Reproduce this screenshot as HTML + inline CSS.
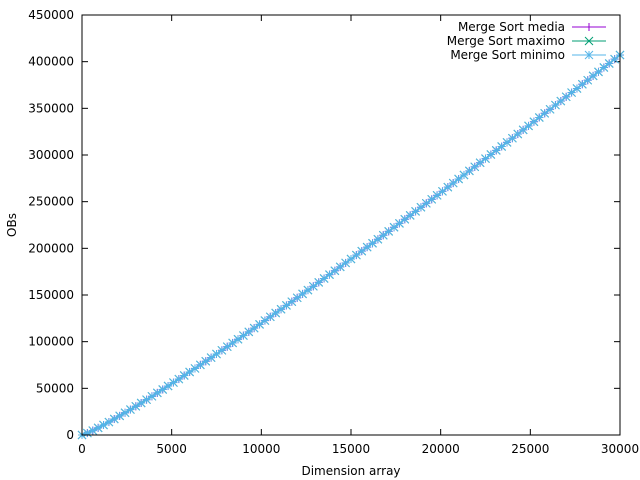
<!DOCTYPE html>
<html><head><meta charset="utf-8"><style>
body{margin:0;background:#fff}
svg{display:block;font-family:"DejaVu Sans","Liberation Sans",sans-serif;font-size:12px}
</style></head><body>
<svg id="c" width="640" height="480"></svg>
<script>
const sizes=[0,300,600,900,1200,1500,1800,2100,2400,2700,3000,3300,3600,3900,4200,4500,4800,5100,5400,5700,6000,6300,6600,6900,7200,7500,7800,8100,8400,8700,9000,9300,9600,9900,10200,10500,10800,11100,11400,11700,12000,12300,12600,12900,13200,13500,13800,14100,14400,14700,15000,15300,15600,15900,16200,16500,16800,17100,17400,17700,18000,18300,18600,18900,19200,19500,19800,20100,20400,20700,21000,21300,21600,21900,22200,22500,22800,23100,23400,23700,24000,24300,24600,24900,25200,25500,25800,26100,26400,26700,27000,27300,27600,27900,28200,28500,28800,29100,29400,29700,30000];
const mediaVals=[0,2079,4758,7659,10716,13875,17118,20454,23832,27270,30750,34287,37836,41457,45108,48780,52464,56202,59940,63726,67500,71316,75174,79005,82872,86775,90714,94608,98616,102573,106560,110484,114528,118503,122604,126630,130680,134754,138852,142857,147000,151167,155232,159315,163548,167670,171810,175968,180144,184338,188550,192780,197028,201294,205416,209715,214032,218196,222546,226737,231120,235338,239568,243999,248256,252525,256806,261099,265608,269928,274260,278604,282960,287328,291708,296100,300504,304920,309114,313551,318000,322461,326934,331170,335664,340170,344688,348957,353496,357780,362340,366912,371220,375813,380136,384750,389088,393723,398076,402732,407100];
const maximoVals=mediaVals.slice();
const minimoVals=mediaVals.slice();
const xTicks=[0,5000,10000,15000,20000,25000,30000];
const yTicks=[0,50000,100000,150000,200000,250000,300000,350000,400000,450000];
const L=82,R=620,T=15,B=435;
const xs=v=>L+v/30000*(R-L), ys=v=>B-v/450000*(B-T);
const svg=document.getElementById('c');const NS='http://www.w3.org/2000/svg';
function mk(t,a,p){const e=document.createElementNS(NS,t);for(const k in a)e.setAttribute(k,a[k]);(p||svg).appendChild(e);return e;}
const grid=mk('g',{});


xTicks.forEach(v=>{const x=xs(v);
 mk('line',{x1:x,x2:x,y1:B,y2:B-6,stroke:'#000'},grid);mk('line',{x1:x,x2:x,y1:T,y2:T+6,stroke:'#000'},grid);
 const t=mk('text',{x:x,y:B+18,'text-anchor':'middle'},grid);t.textContent=v;
 
 });
yTicks.forEach(v=>{const y=ys(v);
 mk('line',{x1:L,x2:L+6,y1:y,y2:y,stroke:'#000'},grid);mk('line',{x1:R,x2:R-6,y1:y,y2:y,stroke:'#000'},grid);
 const t=mk('text',{x:L-8,y:y+4,'text-anchor':'end'},grid);t.textContent=v;
 
 });
const xt=mk('text',{x:351,y:475,'text-anchor':'middle'});xt.textContent='Dimension array';


const yt=mk('text',{x:16,y:225,'text-anchor':'middle',transform:'rotate(-90 16 225)'});yt.textContent='OBs';


function marker(g,x,y,type,c){
 const s=4;
 if(type!=='x'){mk('line',{x1:x-s,x2:x+s,y1:y,y2:y,stroke:c},g);mk('line',{x1:x,x2:x,y1:y-s,y2:y+s,stroke:c},g);}
 if(type!=='+'){mk('line',{x1:x-s,x2:x+s,y1:y-s,y2:y+s,stroke:c},g);mk('line',{x1:x-s,x2:x+s,y1:y+s,y2:y-s,stroke:c},g);}
}
const series=[['Merge Sort media',mediaVals,'#9400d3','+'],['Merge Sort maximo',maximoVals,'#009e73','x'],['Merge Sort minimo',minimoVals,'#56b4e9','*']];
series.forEach((s,i)=>{
 const g=mk('g',{});
 
 
 mk('polyline',{points:sizes.map((n,j)=>xs(n)+','+ys(s[1][j])).join(' '),fill:'none',stroke:s[2],'stroke-width':1},g);
 sizes.forEach((n,j)=>marker(g,xs(n),ys(s[1][j]),s[3],s[2]));
 const ly=27+i*14;
 const lg=mk('g',{});
 
 
 const t=mk('text',{x:565,y:ly+4,'text-anchor':'end'},lg);t.textContent=s[0];
 mk('line',{x1:572,x2:606,y1:ly,y2:ly,stroke:s[2]},lg);marker(lg,589,ly,s[3],s[2]);
});
mk('rect',{x:L,y:T,width:R-L,height:B-T,fill:'none',stroke:'#000'});
</script>
</body></html>
